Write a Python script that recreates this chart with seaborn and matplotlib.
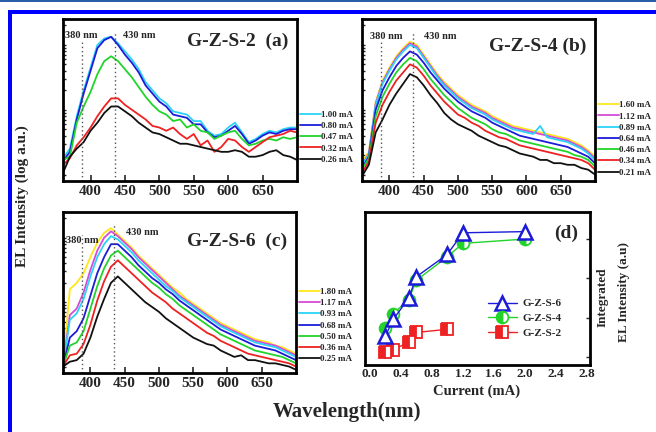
import numpy as np
import pandas as pd
import matplotlib
matplotlib.use("Agg")
import matplotlib.pyplot as plt
import seaborn as sns
from matplotlib.patches import Rectangle

# ---------------- data ----------------
wavelength = list(range(360, 701, 10))

# panel (a) G-Z-S-2
a_labels = ["1.00 mA", "0.80 mA", "0.47 mA", "0.32 mA", "0.26 mA"]
a_100 = [14, 20, 40, 56, 70, 84, 88, 89, 85, 80, 75, 69, 61, 56, 51, 48, 43, 42, 41, 37, 37, 31, 28, 29, 33, 36, 30, 24, 26, 29, 31, 30, 32, 33, 33]
a_080 = [12, 18, 38, 54, 68, 82, 87, 89, 84, 78, 73, 67, 59, 54, 49, 46, 41, 40, 39, 35, 35, 30, 27, 28, 31, 34, 29, 23, 25, 28, 30, 29, 31, 32, 32]
a_047 = [13, 15, 36, 46, 55, 66, 74, 77, 74, 69, 64, 58, 52, 47, 43, 41, 37, 38, 33, 35, 31, 30, 26, 28, 30, 31, 26, 22, 23, 25, 26, 25, 27, 26, 27]
a_032 = [10, 14, 22, 27, 33, 40, 46, 51, 51, 47, 44, 41, 38, 34, 33, 31, 33, 29, 26, 29, 22, 25, 18, 21, 26, 25, 21, 18, 21, 24, 27, 28, 29, 31, 30]
a_026 = [5, 15, 20, 24, 31, 36, 42, 46, 46, 43, 40, 36, 33, 30, 29, 27, 25, 23, 23, 22, 21, 20, 19, 18, 18, 19, 18, 15, 15, 16, 18, 19, 16, 15, 13]

# panel (b) G-Z-S-4
b_labels = ["1.60 mA", "1.12 mA", "0.89 mA", "0.64 mA", "0.46 mA", "0.34 mA", "0.21 mA"]
b_160 = [12, 18, 49, 62, 70, 77, 82, 86, 84, 78, 72, 66, 61, 57, 53, 50, 47, 45, 43, 40, 38, 36, 34, 33, 32, 31, 30, 29, 28, 27, 26, 24, 22, 19, 15]
b_112 = [10, 17, 48, 61, 69, 76, 81, 85, 83, 77, 71, 65, 60, 56, 52, 49, 46, 44, 42, 39, 37, 35, 33, 32, 31, 30, 29, 28, 27, 26, 25, 23, 21, 18, 14]
b_089 = [10, 16, 47, 60, 68, 75, 80, 84, 82, 76, 70, 64, 59, 55, 51, 48, 45, 43, 41, 38, 36, 34, 32, 31, 30, 29, 34, 27, 26, 25, 24, 22, 20, 17, 13]
b_064 = [8, 15, 44, 56, 64, 71, 76, 80, 78, 73, 67, 62, 57, 53, 49, 46, 43, 41, 39, 36, 34, 32, 30, 28, 27, 26, 25, 24, 23, 22, 21, 19, 17, 15, 11]
b_046 = [7, 14, 40, 52, 60, 67, 72, 76, 74, 69, 63, 58, 53, 49, 45, 42, 39, 37, 35, 32, 30, 29, 27, 25, 24, 23, 22, 21, 20, 19, 18, 16, 15, 13, 9]
b_034 = [5, 12, 36, 47, 55, 62, 67, 72, 70, 65, 59, 54, 49, 45, 41, 39, 36, 34, 31, 29, 27, 26, 24, 22, 21, 20, 19, 18, 17, 16, 15, 14, 13, 11, 7]
b_021 = [3, 10, 30, 38, 47, 54, 60, 66, 64, 59, 53, 48, 42, 38, 35, 33, 31, 28, 26, 24, 22, 21, 19, 17, 16, 15, 13, 13, 11, 11, 10, 10, 8, 7, 4]

# panel (c) G-Z-S-6
c_labels = ["1.80 mA", "1.17 mA", "0.93 mA", "0.68 mA", "0.50 mA", "0.36 mA", "0.25 mA"]
c_180 = [5, 52, 56, 62, 72, 81, 87, 90, 86, 82, 78, 73, 69, 65, 61, 57, 53, 50, 46, 43, 40, 37, 34, 31, 29, 27, 25, 23, 21, 20, 19, 17, 16, 14, 12]
c_117 = [4, 36, 40, 50, 64, 76, 84, 88, 85, 81, 77, 72, 68, 64, 60, 56, 52, 48, 45, 42, 39, 36, 33, 30, 28, 26, 24, 22, 20, 19, 18, 17, 15, 13, 11]
c_093 = [4, 33, 37, 46, 60, 72, 80, 85, 83, 79, 75, 70, 66, 62, 58, 54, 51, 47, 44, 41, 38, 35, 32, 29, 27, 25, 23, 21, 19, 18, 17, 16, 14, 12, 10]
c_068 = [4, 22, 26, 34, 48, 62, 72, 80, 80, 76, 72, 67, 63, 59, 56, 52, 49, 45, 42, 39, 36, 33, 30, 27, 25, 23, 21, 19, 17, 16, 15, 14, 12, 10, 8]
c_050 = [4, 17, 19, 26, 40, 54, 65, 73, 76, 72, 68, 64, 60, 56, 53, 49, 46, 42, 39, 36, 33, 30, 27, 24, 22, 20, 18, 16, 14, 13, 12, 11, 10, 8, 6]
c_036 = [4, 11, 12, 18, 30, 45, 57, 66, 70, 66, 62, 58, 54, 50, 47, 44, 40, 37, 34, 31, 28, 25, 23, 20, 18, 16, 14, 12, 11, 10, 9, 8, 7, 6, 4]
c_025 = [4, 7, 8, 12, 22, 35, 46, 56, 60, 56, 52, 48, 44, 41, 38, 34, 31, 28, 25, 22, 20, 18, 17, 14, 12, 10, 11, 8, 8, 7, 6, 6, 5, 4, 2]

# panel (d) integrated intensity
d_labels = ["G-Z-S-6", "G-Z-S-4", "G-Z-S-2"]
cur_s6 = [0.2, 0.3, 0.5, 0.6, 1.0, 1.2, 2.0]
int_s6 = [0.53, 0.95, 1.49, 2.04, 2.61, 3.16, 3.19]
cur_s4 = [0.2, 0.3, 0.5, 0.6, 1.0, 1.2, 2.0]
int_s4 = [0.74, 1.10, 1.45, 1.95, 2.55, 2.89, 3.00]
cur_s2 = [0.2, 0.3, 0.5, 0.6, 1.0]
int_s2 = [0.13, 0.17, 0.38, 0.62, 0.70]

spec_ticks = [400, 450, 500, 550, 600, 650]
cur_ticks = [0.0, 0.4, 0.8, 1.2, 1.6, 2.0, 2.4, 2.8]

# ---------------- style ----------------
sns.set_style("white")
plt.rcParams["font.family"] = ["Liberation Serif", "DejaVu Serif"]
plt.rcParams["font.weight"] = "bold"
plt.rcParams["axes.labelweight"] = "bold"

CY, BL, GR, RD, BK = "#2bd3f7", "#1c1cd8", "#22d42a", "#ee2222", "#111111"
YE, MA = "#ffe61a", "#d64bd6"

W, H = 656, 432
fig = plt.figure(figsize=(W / 100, H / 100), dpi=100)
fig.patch.set_facecolor("white")


def fig_axes(l, t, r, b):
    return fig.add_axes([l / W, 1 - b / H, (r - l) / W, (b - t) / H])


axa = fig_axes(63, 19, 297, 181)
axb = fig_axes(362, 19, 595, 181)
axc = fig_axes(63, 212, 296, 373)
axd = fig_axes(365, 212, 590, 365)

# log-like minor ticks on the left spine
log_ticks = []
for off in (4, 44, 84):
    for k in range(1, 10):
        v = off + 40 * np.log10(k)
        if v < 100:
            log_ticks.append(v)


def spectra_panel(ax, series, colors, labels, title, t380, t430, legy):
    for ys, c, lab in zip(series, colors, labels):
        sns.lineplot(x=wavelength, y=ys, color=c, lw=1.3, label=lab, ax=ax)
    ax.set_xlim(360, 700)
    ax.set_ylim(0, 100)
    ax.vlines([387], 0, 86, colors="#555555", linestyles=(0, (1, 2)), lw=1.0)
    ax.vlines([435], 0, 92, colors="#555555", linestyles=(0, (1, 2)), lw=1.0)
    ax.text(t380[0], t380[1], "380 nm", transform=ax.transAxes, fontsize=7.5,
            fontweight="bold", ha="left", va="center")
    ax.text(t430[0], t430[1], "430 nm", transform=ax.transAxes, fontsize=7.5,
            fontweight="bold", ha="left", va="center")
    ax.text(title[0], title[1], title[2], transform=ax.transAxes, fontsize=14,
            fontweight="bold", ha="right", va="center")
    ax.set_xticks(spec_ticks)
    ax.set_xticklabels([str(t) for t in spec_ticks], fontsize=11, fontweight="bold")
    ax.set_yticks(log_ticks)
    ax.set_yticklabels([])
    ax.tick_params(axis="x", direction="in", length=4, width=1.2, pad=3, bottom=True)
    ax.tick_params(axis="y", direction="in", length=2.5, width=1.0, left=True)
    ax.set_xlabel("")
    ax.set_ylabel("")
    for s in ax.spines.values():
        s.set_linewidth(2.0)
        s.set_color("black")
    ax.legend(loc="center left", bbox_to_anchor=(1.012, legy), frameon=False,
              fontsize=6.5, handlelength=2.3, handletextpad=0.1,
              labelspacing=0.32, borderpad=0, borderaxespad=0)


spectra_panel(axa, [a_100, a_080, a_047, a_032, a_026], [CY, BL, GR, RD, BK], a_labels,
              (0.965, 0.865, "G-Z-S-2  (a)"), (0.01, 0.90), (0.255, 0.90), 0.27)
spectra_panel(axb, [b_160, b_112, b_089, b_064, b_046, b_034, b_021],
              [YE, MA, CY, BL, GR, RD, BK], b_labels,
              (0.965, 0.83, "G-Z-S-4 (b)"), (0.035, 0.89), (0.265, 0.89), 0.26)
spectra_panel(axc, [c_180, c_117, c_093, c_068, c_050, c_036, c_025],
              [YE, MA, CY, BL, GR, RD, BK], c_labels,
              (0.96, 0.816, "G-Z-S-6  (c)"), (0.015, 0.82), (0.27, 0.875), 0.295)

# ---------------- panel (d) ----------------
sns.lineplot(x=cur_s2, y=int_s2, color=RD, lw=1.0, marker="s", markersize=8,
             markeredgecolor=RD, markerfacecolor=RD, fillstyle="left",
             markerfacecoloralt="white", markeredgewidth=1.3, label=d_labels[2], ax=axd)
sns.lineplot(x=cur_s4, y=int_s4, color=GR, lw=1.0, marker="o", markersize=8.5,
             markeredgecolor=GR, markerfacecolor=GR, fillstyle="left",
             markerfacecoloralt="white", markeredgewidth=1.3, label=d_labels[1], ax=axd)
sns.lineplot(x=cur_s6, y=int_s6, color=BL, lw=1.0, marker="^", markersize=9.5,
             markeredgecolor=BL, markerfacecolor="white", markeredgewidth=1.8,
             label=d_labels[0], ax=axd)
axd.set_xlim(-0.064, 2.843)
axd.set_ylim(-0.21, 3.69)
axd.set_xticks(cur_ticks)
axd.set_xticklabels([f"{t:.1f}" for t in cur_ticks], fontsize=9.5, fontweight="bold")
axd.tick_params(axis="x", direction="in", length=3, width=1.0, pad=2)
axd.yaxis.tick_right()
axd.set_yticks([0, 1, 2, 3])
axd.set_yticklabels([])
axd.tick_params(axis="y", direction="in", length=3, width=1.0, right=True, left=False)
axd.set_xlabel("")
axd.set_ylabel("")
for s in axd.spines.values():
    s.set_linewidth(2.0)
    s.set_color("black")
axd.text(0.948, 0.859, "(d)", transform=axd.transAxes, fontsize=14,
         fontweight="bold", ha="right", va="center")
h, l = axd.get_legend_handles_labels()
order = [l.index(x) for x in d_labels]
axd.legend([h[i] for i in order], [l[i] for i in order], loc="center left",
           bbox_to_anchor=(0.545, 0.305), frameon=False, fontsize=8,
           handlelength=2.6, handletextpad=0.5, labelspacing=0.45,
           borderpad=0, borderaxespad=0, numpoints=1)

# ---------------- figure texts ----------------
fig.text(22 / W, 1 - 196 / H, "EL Intensity (log a.u.)", rotation=90, fontsize=11,
         fontweight="bold", ha="center", va="center")
fig.text(347 / W, 1 - 412 / H, "Wavelength(nm)", fontsize=15, fontweight="bold",
         ha="center", va="center")
fig.text(477 / W, 1 - 391 / H, "Current (mA)", fontsize=10.5, fontweight="bold",
         ha="center", va="center")
fig.text(603 / W, 1 - 297 / H, "Integrated", rotation=90, fontsize=9.5,
         fontweight="bold", ha="center", va="center")
fig.text(624 / W, 1 - 292 / H, "EL Intensity (a.u)", rotation=90, fontsize=9.5,
         fontweight="bold", ha="center", va="center")

# ---------------- frame ----------------
fig.add_artist(Rectangle((0, 1 - 2 / H), 1, 2 / H, transform=fig.transFigure,
                         color="#2b5ea8", lw=0))
fig.add_artist(Rectangle((8 / W, 1 - 14 / H), 648 / W, 4 / H, transform=fig.transFigure,
                         color="#0000ff", lw=0))
fig.add_artist(Rectangle((8 / W, 0), 4 / W, 1 - 10 / H, transform=fig.transFigure,
                         color="#0000ff", lw=0))

fig.savefig("out.png", dpi=100)
